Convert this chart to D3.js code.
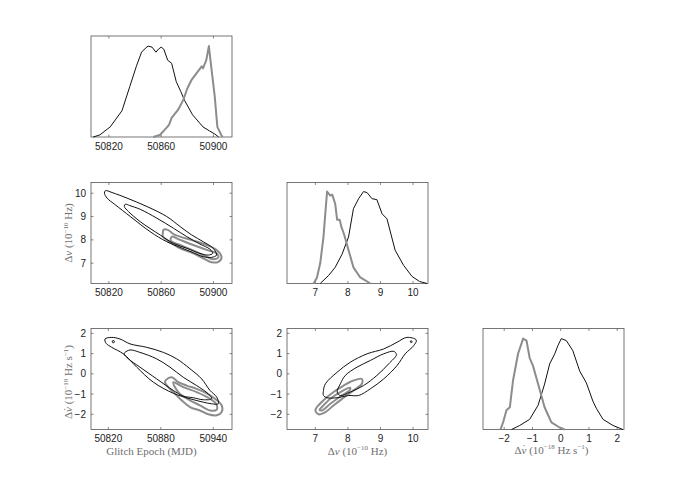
<!DOCTYPE html>
<html>
<head>
<meta charset="utf-8">
<script src="https://cdn.jsdelivr.net/npm/d3@7"></script>
<style>
body { margin: 0; background: #fff; }
.tick-label { font-family: "Liberation Sans", Arial, sans-serif; font-size: 10px; fill: #222; }
.axis-label { font-family: "Liberation Serif", "Times New Roman", serif; font-size: 11px; fill: #6e6e6e; }
</style>
</head>
<body>
<svg id="fig" width="698" height="488"></svg>
<script>
// tick values
const epochTicksA = [50820, 50860, 50900];
const epochTicksB = [50820, 50880, 50940];
const nuTicks = [7, 8, 9, 10];
const nudotTicks = [-2, -1, 0, 1, 2];

// axis ranges
const epochDomainA = [50806.3, 50914.2];
const epochDomainB = [50800.2, 50961.4];
const nuDomain = [6.13, 10.46];
const nudotDomain = [-2.75, 2.24];

// marginal histograms, [value, relative height]
const epochHistBlack = [[50808,0],[50813,0.02],[50821,0.10],[50830,0.26],[50836,0.50],[50841,0.70],[50845,0.84],[50848,0.88],[50850,0.90],[50853,0.89],[50856,0.84],[50858,0.87],[50860,0.89],[50862,0.87],[50865,0.76],[50868,0.73],[50871.5,0.55],[50875,0.45],[50878,0.36],[50884,0.22],[50892,0.10],[50897,0.06],[50901,0.03],[50904,0]];
const epochHistGray = [[50854,0],[50859,0.02],[50864,0.09],[50866,0.12],[50868,0.19],[50873,0.27],[50877,0.37],[50880,0.48],[50883,0.56],[50887,0.63],[50891,0.70],[50892,0.68],[50894.5,0.76],[50896.5,0.90],[50898,0.73],[50901,0.40],[50903,0.10],[50906,0.02],[50907,0]];
const nuHistBlack = [[7.15,0],[7.41,0.08],[7.61,0.16],[7.82,0.29],[8.02,0.46],[8.17,0.74],[8.33,0.84],[8.48,0.91],[8.59,0.90],[8.74,0.84],[8.89,0.83],[9.05,0.69],[9.20,0.64],[9.45,0.33],[9.71,0.18],[9.97,0.07],[10.2,0.02],[10.43,0]];
const nuHistGray = [[6.95,0],[7.05,0.06],[7.15,0.20],[7.25,0.46],[7.36,0.91],[7.41,0.89],[7.46,0.87],[7.52,0.88],[7.61,0.79],[7.67,0.63],[7.75,0.63],[7.80,0.56],[7.89,0.48],[8.02,0.33],[8.17,0.16],[8.38,0.06],[8.69,0]];
const nudotHistBlack = [[-1.74,0],[-1.45,0.04],[-1.10,0.10],[-0.80,0.24],[-0.57,0.45],[-0.39,0.65],[-0.21,0.75],[-0.10,0.83],[0.02,0.90],[0.20,0.88],[0.43,0.78],[0.67,0.58],[0.91,0.46],[1.14,0.28],[1.26,0.21],[1.50,0.10],[1.85,0.04],[2.20,0]];
const nudotHistGray = [[-2.13,0],[-2.04,0.07],[-1.92,0.19],[-1.80,0.22],[-1.69,0.48],[-1.51,0.75],[-1.33,0.90],[-1.21,0.88],[-1.10,0.71],[-0.98,0.63],[-0.80,0.45],[-0.57,0.22],[-0.33,0.07],[-0.04,0.02],[0.14,0]];

// 2D contours: epoch vs dnu
const epochNuBlackOuter = [[50817.3,10.11],[50822.4,10.03],[50833.9,9.79],[50849.1,9.43],[50864.3,9.00],[50874.5,8.57],[50883.4,8.21],[50892.2,7.92],[50899.8,7.64],[50902.4,7.35],[50898.6,7.25],[50892.2,7.28],[50884.6,7.45],[50874.5,7.68],[50864.3,7.92],[50851.6,8.35],[50836.4,9.00],[50825,9.50],[50818.6,9.79],[50816.6,10.0]];
const epochNuBlackInner = [[50832.6,9.53],[50836,9.47],[50844,9.31],[50856.7,8.93],[50869.4,8.50],[50879.6,8.14],[50889.7,7.82],[50897.3,7.60],[50899.4,7.42],[50896,7.35],[50889.7,7.42],[50879.6,7.64],[50869.4,7.85],[50859.2,8.21],[50844,8.78],[50835.1,9.21],[50831.8,9.43]];
const epochNuGrayOuter = [[50861.8,8.43],[50865,8.43],[50869.4,8.25],[50874.5,8.14],[50884.6,7.97],[50894.8,7.78],[50902.4,7.57],[50906.2,7.25],[50903.7,7.06],[50898.6,7.04],[50892.2,7.21],[50884.6,7.42],[50874.5,7.64],[50868.2,7.85],[50864.3,8.0],[50861.3,8.14],[50861.3,8.31]];
const epochNuGrayInner = [[50868.2,8.14],[50874.5,8.0],[50884.6,7.78],[50894.8,7.57],[50902.4,7.42],[50903.7,7.25],[50899.8,7.17],[50893.5,7.31],[50884.6,7.54],[50874.5,7.78],[50867.4,7.97]];

// epoch vs dnudot
const epochNudotBlackOuter = [[50816.2,1.72],[50823.9,1.80],[50833.4,1.72],[50844.8,1.48],[50863.9,1.31],[50882.9,1.06],[50898.2,0.74],[50913.4,0.25],[50926.7,-0.25],[50936.2,-0.82],[50943.9,-1.15],[50945.7,-1.48],[50938.2,-1.48],[50928.6,-1.40],[50913.4,-1.23],[50894.3,-0.96],[50871.4,-0.41],[50852.5,0.33],[50837.1,0.99],[50823.9,1.31],[50817.4,1.51]];
const epochNudotBlackInner = [[50839.1,1.06],[50844.8,1.18],[50856.2,1.06],[50875.3,0.74],[50890.5,0.33],[50905.7,-0.17],[50921,-0.58],[50934.3,-0.99],[50938.2,-1.23],[50928.6,-1.28],[50917.1,-1.18],[50905.7,-1.10],[50894.3,-0.82],[50875.3,-0.25],[50856.2,0.33],[50843,0.74],[50838,0.99]];
const epochNudotBlackDot = [[50824.5,1.62],[50826.5,1.64],[50827,1.56],[50825,1.54]];
const epochNudotGrayOuter = [[50886,-0.30],[50892.4,-0.17],[50900,-0.41],[50909.6,-0.58],[50921,-0.74],[50932.5,-0.96],[50941.9,-1.23],[50949.6,-1.56],[50949.6,-1.89],[50943.9,-2.05],[50934.3,-2.00],[50924.8,-1.81],[50913.4,-1.64],[50901.9,-1.23],[50894.3,-0.90],[50888.6,-0.66],[50884.8,-0.41]];
const epochNudotGrayInner = [[50894.3,-0.41],[50905.7,-0.66],[50921,-0.90],[50934.3,-1.18],[50943.1,-1.48],[50943.9,-1.77],[50936.2,-1.81],[50924.8,-1.56],[50913.4,-1.31],[50901.9,-0.99],[50896.2,-0.66]];

// dnu vs dnudot
const nuNudotBlackOuter = [[7.25,-0.82],[7.31,-0.49],[7.67,0.08],[8.07,0.57],[8.59,0.99],[9.10,1.23],[9.51,1.56],[9.81,1.80],[10.10,1.67],[10.02,1.39],[9.76,0.99],[9.51,0.41],[9.10,-0.25],[8.69,-0.74],[8.33,-1.07],[8.02,-1.07],[7.67,-1.18],[7.36,-1.18],[7.25,-1.07]];
const nuNudotBlackInner = [[7.92,-0.08],[8.28,0.33],[8.69,0.66],[9.10,0.99],[9.41,1.11],[9.49,0.95],[9.25,0.49],[8.89,-0.08],[8.48,-0.58],[8.07,-0.90],[7.77,-1.07],[7.67,-0.90],[7.77,-0.49]];
const nuNudotBlackDot = [[9.92,1.62],[9.96,1.63],[9.97,1.56],[9.93,1.55]];
const nuNudotGrayOuter = [[7.05,-1.64],[7.25,-1.31],[7.56,-0.90],[7.87,-0.58],[8.17,-0.33],[8.43,-0.25],[8.43,-0.49],[8.17,-0.82],[7.87,-1.18],[7.56,-1.56],[7.31,-1.89],[7.10,-2.00],[7.0,-1.81]];
const nuNudotGrayInner = [[7.20,-1.64],[7.46,-1.23],[7.77,-0.90],[8.07,-0.69],[8.05,-0.82],[7.77,-1.12],[7.46,-1.48],[7.20,-1.81],[7.13,-1.77]];

const colX = [91, 287, 483], rowY = [36, 182.5, 328.5];
const pw = 141, ph = 101;
const black = "#111", gray = "#8c8c8c";

const svg = d3.select("#fig");

function panel(col, row, xDomain, yDomain, xTicks, yTicks) {
    const g = svg.append("g").attr("transform", `translate(${colX[col]}, ${rowY[row]})`);
    const x = d3.scaleLinear().domain(xDomain).range([0, pw]);
    const y = d3.scaleLinear().domain(yDomain).range([ph, 0]);

    g.append("rect")
        .attr("width", pw).attr("height", ph)
        .attr("fill", "none").attr("stroke", "#555").attr("stroke-width", 0.8);

    // inside ticks, bottom and top
    xTicks.forEach(function (t) {
        g.append("line").attr("x1", x(t)).attr("x2", x(t)).attr("y1", ph).attr("y2", ph - 2.5)
            .attr("stroke", "#555").attr("stroke-width", 0.7);
        g.append("line").attr("x1", x(t)).attr("x2", x(t)).attr("y1", 0).attr("y2", 2.5)
            .attr("stroke", "#555").attr("stroke-width", 0.7);
        g.append("text").attr("class", "tick-label")
            .attr("x", x(t)).attr("y", ph + 12.5)
            .attr("text-anchor", "middle")
            .text(String(t).replace("-", "\u2212"));
    });
    yTicks.forEach(function (t) {
        g.append("line").attr("x1", 0).attr("x2", 2.5).attr("y1", y(t)).attr("y2", y(t))
            .attr("stroke", "#555").attr("stroke-width", 0.7);
        g.append("line").attr("x1", pw).attr("x2", pw - 2.5).attr("y1", y(t)).attr("y2", y(t))
            .attr("stroke", "#555").attr("stroke-width", 0.7);
        g.append("text").attr("class", "tick-label")
            .attr("x", -5).attr("y", y(t) + 3.6)
            .attr("text-anchor", "end")
            .text(String(t).replace("-", "\u2212"));
    });
    return {g: g, x: x, y: y};
}

function hist(p, data, color, width) {
    p.g.append("path")
        .datum(data)
        .attr("fill", "none").attr("stroke", color).attr("stroke-width", width)
        .attr("stroke-linejoin", "round")
        .attr("d", d3.line().x(d => p.x(d[0])).y(d => p.y(d[1])));
}

function contour(p, data, color, width) {
    p.g.append("path")
        .datum(data)
        .attr("fill", "none").attr("stroke", color).attr("stroke-width", width)
        .attr("stroke-linejoin", "round")
        .attr("d", d3.line().curve(d3.curveCatmullRomClosed.alpha(0.5))
            .x(d => p.x(d[0])).y(d => p.y(d[1])));
}

// labels with superscripts; the dot of nu-dot is set as a separate glyph
function nuLabel(sel, dot) {
    sel.append("tspan").text("\u0394");
    sel.append("tspan").attr("font-style", "italic").text("\u03bd");
    if (dot) {
        sel.append("tspan").attr("dx", -4.2).attr("dy", -1.5).text("\u02d9");
        sel.append("tspan").attr("dx", 0.5).attr("dy", 1.5).text(" (10");
    } else {
        sel.append("tspan").text(" (10");
    }
    sel.append("tspan").attr("dy", -4.5).attr("font-size", "7px").text(dot ? "\u221218" : "\u221210");
    if (dot) {
        sel.append("tspan").attr("dy", 4.5).text(" Hz s");
        sel.append("tspan").attr("dy", -4.5).attr("font-size", "7px").text("\u22121");
        sel.append("tspan").attr("dy", 4.5).text(")");
    } else {
        sel.append("tspan").attr("dy", 4.5).text(" Hz)");
    }
}

// top left: epoch marginal
const p1 = panel(0, 0, epochDomainA, [0, 1], epochTicksA, []);
hist(p1, epochHistBlack, black, 1);
hist(p1, epochHistGray, gray, 2);

// middle left: epoch vs dnu
const p2 = panel(0, 1, epochDomainA, nuDomain, epochTicksA, nuTicks);
contour(p2, epochNuGrayOuter, gray, 2);
contour(p2, epochNuGrayInner, gray, 2);
contour(p2, epochNuBlackOuter, black, 1);
contour(p2, epochNuBlackInner, black, 1);

// middle right: dnu marginal
const p3 = panel(1, 1, nuDomain, [0, 1], nuTicks, []);
hist(p3, nuHistBlack, black, 1);
hist(p3, nuHistGray, gray, 2);

// bottom left: epoch vs dnudot
const p4 = panel(0, 2, epochDomainB, nudotDomain, epochTicksB, nudotTicks);
contour(p4, epochNudotGrayOuter, gray, 2);
contour(p4, epochNudotGrayInner, gray, 2);
contour(p4, epochNudotBlackOuter, black, 1);
contour(p4, epochNudotBlackInner, black, 1);
contour(p4, epochNudotBlackDot, black, 1);

// bottom middle: dnu vs dnudot
const p5 = panel(1, 2, nuDomain, nudotDomain, nuTicks, nudotTicks);
contour(p5, nuNudotGrayOuter, gray, 2);
contour(p5, nuNudotGrayInner, gray, 2);
contour(p5, nuNudotBlackOuter, black, 1);
contour(p5, nuNudotBlackInner, black, 1);
contour(p5, nuNudotBlackDot, black, 1);

// bottom right: dnudot marginal
const p6 = panel(2, 2, nudotDomain, [0, 1], nudotTicks, []);
hist(p6, nudotHistBlack, black, 1);
hist(p6, nudotHistGray, gray, 2);

// axis titles
p4.g.append("text").attr("class", "axis-label")
    .attr("x", pw / 2 - 10).attr("y", ph + 25).attr("text-anchor", "middle")
    .text("Glitch Epoch (MJD)");
nuLabel(p5.g.append("text").attr("class", "axis-label")
    .attr("x", pw / 2).attr("y", ph + 25).attr("text-anchor", "middle"), false);
nuLabel(p6.g.append("text").attr("class", "axis-label")
    .attr("x", pw / 2 - 2).attr("y", ph + 24).attr("text-anchor", "middle"), true);
nuLabel(p2.g.append("text").attr("class", "axis-label")
    .attr("transform", `translate(-19, ${ph / 2}) rotate(-90)`).attr("text-anchor", "middle"), false);
nuLabel(p4.g.append("text").attr("class", "axis-label")
    .attr("transform", `translate(-19, ${ph / 2 + 3}) rotate(-90)`).attr("text-anchor", "middle"), true);
</script>
</body>
</html>
